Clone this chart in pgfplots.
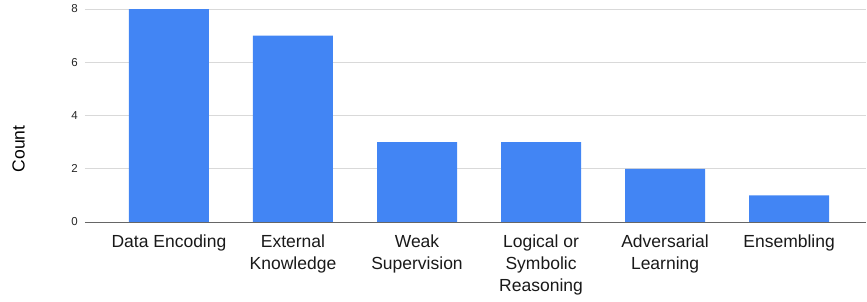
\documentclass[border=0pt]{standalone}
\usepackage{fontspec}
\setmainfont{Liberation Sans}
\usepackage{pgfplots}
\pgfplotsset{compat=1.18}
\definecolor{barblue}{HTML}{4285F4}
\definecolor{gridgray}{HTML}{D9D9D9}
\definecolor{axisgray}{HTML}{666666}
\begin{document}
\begin{tikzpicture}
\useasboundingbox (-85bp,-80bp) rectangle (782bp,222bp);
\begin{axis}[
  at={(0,0)}, anchor=south west,
  scale only axis,
  width=781bp, height=213bp,
  xmin=-0.677, xmax=5.62,
  ymin=0, ymax=8,
  axis line style={draw=none},
  ymajorgrids,
  grid style={gridgray, line width=1bp},
  ytick={0,2,4,6,8},
  xtick={0,1,2,3,4,5},
  xticklabels={Data Encoding, External\\Knowledge, Weak\\Supervision, Logical or\\Symbolic\\Reasoning, Adversarial\\Learning, Ensembling},
  major tick length=0pt,
  /pgf/number format/assume math mode=true,
  yticklabel style={font=\fontsize{11.5bp}{13bp}\selectfont, anchor=east, inner sep=0pt, xshift=-7bp, text=black!85},
  xticklabel style={font=\fontsize{17.5bp}{22bp}\selectfont, align=center, anchor=north, inner sep=0pt, yshift=-13bp, text=black!90},
  ylabel={Count},
  ylabel style={font=\fontsize{17.5bp}{22bp}\selectfont, at={(axis description cs:-0.0851,0.343)}, anchor=center, rotate=0},
  clip=false,
]
\addplot[ybar, bar width=80bp, fill=barblue, draw=none] coordinates {(0,8) (1,7) (2,3) (3,3) (4,2) (5,1)};
\draw[axisgray, line width=1bp] (rel axis cs:0,0) -- (rel axis cs:1,0);
\end{axis}
\end{tikzpicture}
\end{document}
